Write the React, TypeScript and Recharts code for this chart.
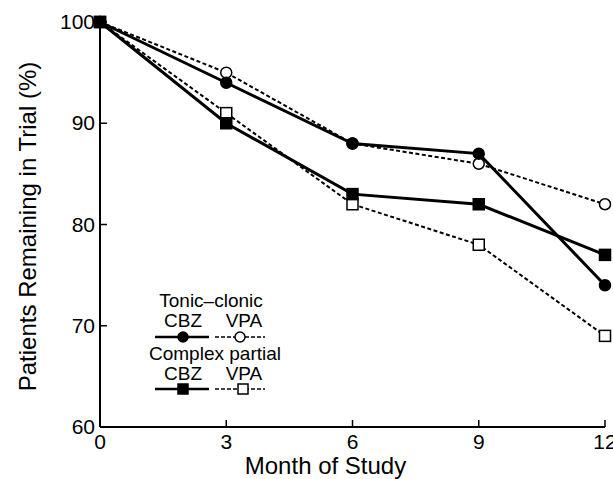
import { LineChart, Line, XAxis, YAxis } from "recharts";

const months = [0, 3, 6, 9, 12];
const tonicCbz = [100, 94, 88, 87, 74];
const tonicVpa = [100, 95, 88, 86, 82];
const partialCbz = [100, 90, 83, 82, 77];
const partialVpa = [100, 91, 82, 78, 69];
const xTicks = [0, 3, 6, 9, 12];
const yTicks = [60, 70, 80, 90, 100];

const data = months.map((m, i) => ({
  month: m,
  tonicCbz: tonicCbz[i],
  tonicVpa: tonicVpa[i],
  partialCbz: partialCbz[i],
  partialVpa: partialVpa[i],
}));

const FONT = "'Liberation Sans', Arial, Helvetica, sans-serif";

const circleDot = (filled: boolean) => (props: any) => {
  const { cx, cy, index } = props;
  return <circle key={`c-${filled}-${index}`} cx={cx} cy={cy} r={5.5} fill={filled ? "#000" : "#fff"} stroke="#000" strokeWidth={1.5} />;
};

const squareDot = (filled: boolean) => (props: any) => {
  const { cx, cy, index } = props;
  return <rect key={`s-${filled}-${index}`} x={cx - 5.5} y={cy - 5.5} width={11} height={11} fill={filled ? "#000" : "#fff"} stroke="#000" strokeWidth={1.5} />;
};

const BottomTick = (props: any) => {
  const { x, y, payload } = props;
  return (
    <g>
      <line x1={x} y1={y} x2={x} y2={y - 7} stroke="#000" strokeWidth={1.5} />
      <text x={x} y={y + 22} textAnchor="middle" fontSize={21} fill="#000" fontFamily={FONT}>
        {payload.value}
      </text>
    </g>
  );
};

const LeftTick = (props: any) => {
  const { x, y, payload } = props;
  return (
    <g>
      <line x1={x} y1={y} x2={x + 7} y2={y} stroke="#000" strokeWidth={1.5} />
      <text x={x - 5} y={y + 7} textAnchor="end" fontSize={21} fill="#000" fontFamily={FONT}>
        {payload.value}
      </text>
    </g>
  );
};

const RightTick = (props: any) => {
  const { x, y } = props;
  return <line x1={x} y1={y} x2={x - 7} y2={y} stroke="#000" strokeWidth={1.5} />;
};

function LegendBox() {
  const t = { fontSize: 19, fill: "#000", fontFamily: FONT, textAnchor: "middle" as const };
  return (
    <svg width={180} height={110} style={{ display: "block" }}>
      <text x={76} y={17} {...t}>Tonic–clonic</text>
      <text x={48} y={37} {...t}>CBZ</text>
      <text x={109} y={37} {...t}>VPA</text>
      <line x1={20} y1={47} x2={74} y2={47} stroke="#000" strokeWidth={2.5} />
      <circle cx={48} cy={47} r={5} fill="#000" stroke="#000" strokeWidth={1.5} />
      <line x1={80} y1={47} x2={130} y2={47} stroke="#000" strokeWidth={1.5} strokeDasharray="4 2" />
      <circle cx={105} cy={47} r={5} fill="#fff" stroke="#000" strokeWidth={1.5} />
      <text x={80} y={70} {...t}>Complex partial</text>
      <text x={48} y={90} {...t}>CBZ</text>
      <text x={109} y={90} {...t}>VPA</text>
      <line x1={20} y1={99} x2={74} y2={99} stroke="#000" strokeWidth={2.5} />
      <rect x={43} y={94} width={10} height={10} fill="#000" stroke="#000" strokeWidth={1.5} />
      <line x1={80} y1={99} x2={130} y2={99} stroke="#000" strokeWidth={1.5} strokeDasharray="4 2" />
      <rect x={103} y={94} width={10} height={10} fill="#fff" stroke="#000" strokeWidth={1.5} />
    </svg>
  );
}

export default function App() {
  return (
    <div style={{ position: "absolute", left: 0, top: 0, width: 613, height: 479, background: "#fff" }}>
      <LineChart width={613} height={479} data={data} margin={{ top: 22, right: 8, bottom: 0, left: 40 }}>
        <XAxis
          dataKey="month"
          type="number"
          domain={[0, 12]}
          ticks={xTicks}
          tickSize={0}
          tickMargin={0}
          tick={<BottomTick />}
          height={52}
          axisLine={{ stroke: "#000", strokeWidth: 2 }}
          label={{ value: "Month of Study", position: "insideBottom", offset: 5, dx: -27, fontSize: 24, fill: "#000", fontFamily: FONT }}
        />
        <XAxis xAxisId="top" dataKey="month" type="number" domain={[0, 12]} orientation="top" height={0} tick={false} tickLine={false} axisLine={{ stroke: "#000", strokeWidth: 1.5 }} />
        <YAxis
          type="number"
          domain={[60, 100]}
          ticks={yTicks}
          tickSize={0}
          tickMargin={0}
          tick={<LeftTick />}
          width={60}
          axisLine={{ stroke: "#000", strokeWidth: 2 }}
          label={{ value: "Patients Remaining in Trial (%)", angle: -90, position: "insideLeft", offset: 0, dx: -13, dy: 2, textAnchor: "middle", fontSize: 24, fill: "#000", fontFamily: FONT }}
        />
        <YAxis yAxisId="right" orientation="right" type="number" domain={[60, 100]} ticks={yTicks} width={0} tickSize={0} tickMargin={0} tick={<RightTick />} axisLine={{ stroke: "#000", strokeWidth: 2 }} />
        <Line dataKey="tonicVpa" stroke="#000" strokeWidth={2} strokeDasharray="4 2.5" dot={circleDot(false)} isAnimationActive={false} />
        <Line dataKey="partialVpa" stroke="#000" strokeWidth={2} strokeDasharray="4 2.5" dot={squareDot(false)} isAnimationActive={false} />
        <Line dataKey="tonicCbz" stroke="#000" strokeWidth={3} dot={circleDot(true)} isAnimationActive={false} />
        <Line dataKey="partialCbz" stroke="#000" strokeWidth={3} dot={squareDot(true)} isAnimationActive={false} />
      </LineChart>
      <div style={{ position: "absolute", left: 135, top: 290 }}>
        <LegendBox />
      </div>
    </div>
  );
}
